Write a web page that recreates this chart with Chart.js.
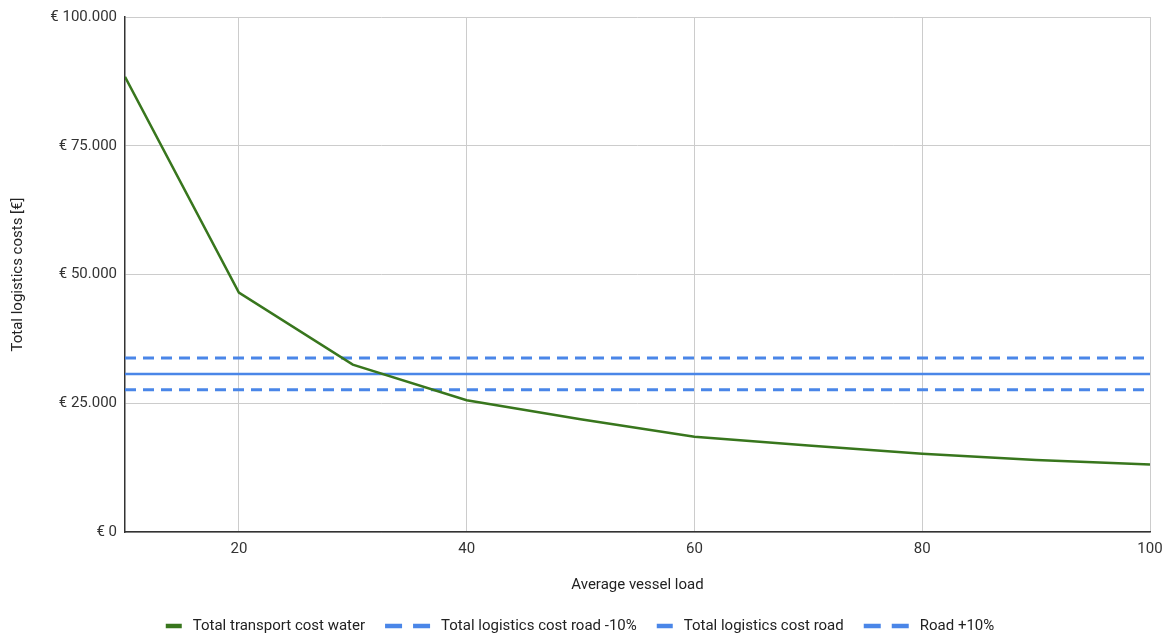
<!DOCTYPE html>
<html>
<head>
<meta charset="utf-8">
<script src="https://cdn.jsdelivr.net/npm/chart.js@4.4.1/dist/chart.umd.min.js"></script>
<style>
  html, body { margin: 0; padding: 0; background: #ffffff; }
  #wrap { width: 1167px; height: 634px; }
</style>
</head>
<body>
<div id="wrap"><canvas id="costChart" width="1167" height="634"></canvas></div>
<script>
// Average vessel load (x) and cost per scenario (y, euro)
const vesselLoads = [10, 20, 30, 40, 50, 60, 70, 80, 90, 100];
const waterCost = [88400, 46500, 32500, 25600, 21900, 18500, 16800, 15200, 14000, 13100];
const roadCostMinus10 = [27600, 27600, 27600, 27600, 27600, 27600, 27600, 27600, 27600, 27600];
const roadCost = [30700, 30700, 30700, 30700, 30700, 30700, 30700, 30700, 30700, 30700];
const roadCostPlus10 = [33800, 33800, 33800, 33800, 33800, 33800, 33800, 33800, 33800, 33800];

const seriesNames = [
  'Total transport cost water',
  'Total logistics cost road -10%',
  'Total logistics cost road',
  'Road +10%'
];

const xTickValues = [20, 40, 60, 80, 100];
const yTickValues = [0, 25000, 50000, 75000, 100000];

const GREEN = '#38761d';
const BLUE = '#4a86e8';
const FONT = 'Roboto, "Liberation Sans", Arial, sans-serif';
const FONT_SIZE = 15;

function toPoints(values) {
  return vesselLoads.map((x, i) => ({ x: x, y: values[i] }));
}

function euro(v) {
  const s = String(Math.round(v)).replace(/\B(?=(\d{3})+(?!\d))/g, '.');
  return '€ ' + s;
}

// Legend drawn below the axis title: short solid swatch for solid lines,
// two dashes for dashed lines.
const bottomLegend = {
  id: 'bottomLegend',
  afterDraw(chart) {
    const ctx = chart.ctx;
    ctx.save();
    ctx.font = FONT_SIZE + 'px ' + FONT;
    ctx.textBaseline = 'middle';
    ctx.textAlign = 'left';
    const markerGap = 11;
    const itemGap = 20;
    const items = chart.data.datasets.map(ds => {
      const dashed = Array.isArray(ds.borderDash) && ds.borderDash.length > 0;
      return {
        label: ds.label,
        color: ds.borderColor,
        dashed: dashed,
        markerW: dashed ? 45 : 16,
        textW: ctx.measureText(ds.label).width
      };
    });
    let total = 0;
    items.forEach((it, i) => {
      total += it.markerW + markerGap + it.textW + (i ? itemGap : 0);
    });
    let x = 580 - total / 2;
    const y = 626;
    items.forEach((it, i) => {
      if (i) x += itemGap;
      ctx.strokeStyle = it.color;
      ctx.lineWidth = 4.5;
      ctx.lineCap = 'butt';
      ctx.setLineDash(it.dashed ? [17, 11] : []);
      ctx.beginPath();
      ctx.moveTo(x, y);
      ctx.lineTo(x + it.markerW, y);
      ctx.stroke();
      ctx.setLineDash([]);
      x += it.markerW + markerGap;
      ctx.fillStyle = '#222222';
      ctx.fillText(it.label, x, y);
      x += it.textW;
    });
    ctx.restore();
  }
};

new Chart(document.getElementById('costChart'), {
  type: 'line',
  data: {
    datasets: [
      {
        label: seriesNames[0],
        data: toPoints(waterCost),
        borderColor: GREEN,
        backgroundColor: GREEN,
        borderWidth: 2.5,
        pointRadius: 0,
        tension: 0
      },
      {
        label: seriesNames[1],
        data: toPoints(roadCostMinus10),
        borderColor: BLUE,
        backgroundColor: BLUE,
        borderWidth: 3,
        borderDash: [11, 7],
        pointRadius: 0
      },
      {
        label: seriesNames[2],
        data: toPoints(roadCost),
        borderColor: BLUE,
        backgroundColor: BLUE,
        borderWidth: 2.5,
        pointRadius: 0
      },
      {
        label: seriesNames[3],
        data: toPoints(roadCostPlus10),
        borderColor: BLUE,
        backgroundColor: BLUE,
        borderWidth: 3,
        borderDash: [11, 7],
        pointRadius: 0
      }
    ]
  },
  options: {
    responsive: false,
    animation: false,
    devicePixelRatio: 1,
    layout: { padding: { top: 16, right: 17, bottom: 32, left: 0 } },
    plugins: {
      legend: { display: false },
      tooltip: { enabled: false }
    },
    scales: {
      x: {
        type: 'linear',
        min: 10,
        max: 100,
        afterBuildTicks: scale => { scale.ticks = xTickValues.map(v => ({ value: v })); },
        afterFit: scale => {
          scale.height = 70;
          scale.paddingLeft = 0;
          scale.paddingRight = 13;
        },
        grid: { color: '#cccccc', lineWidth: 1, drawTicks: false },
        border: { color: '#333333', width: 1.5 },
        ticks: {
          padding: 8,
          color: '#333333',
          font: { family: FONT, size: FONT_SIZE },
          maxRotation: 0
        },
        title: {
          display: true,
          text: 'Average vessel load',
          color: '#222222',
          font: { family: FONT, size: FONT_SIZE },
          padding: { top: 0, bottom: 8 }
        }
      },
      y: {
        type: 'linear',
        min: 0,
        max: 100000,
        afterBuildTicks: scale => { scale.ticks = yTickValues.map(v => ({ value: v })); },
        afterFit: scale => { scale.width = 125; },
        grid: { color: '#cccccc', lineWidth: 1, drawTicks: false },
        border: { color: '#333333', width: 1.5 },
        ticks: {
          padding: 8,
          color: '#333333',
          font: { family: FONT, size: FONT_SIZE },
          callback: v => euro(v)
        },
        title: {
          display: true,
          text: 'Total logistics costs [€]',
          color: '#222222',
          font: { family: FONT, size: FONT_SIZE },
          padding: { top: 9, bottom: 0 }
        }
      }
    }
  },
  plugins: [bottomLegend]
});
</script>
</body>
</html>
